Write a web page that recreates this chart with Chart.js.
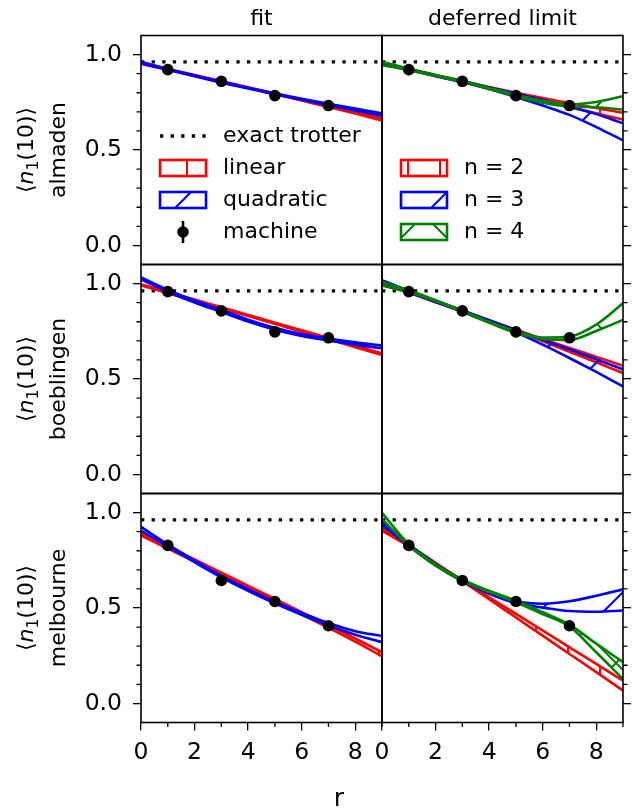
<!DOCTYPE html>
<html lang="en">
<head>
<meta charset="UTF-8">
<title>n1(10) against r: fit and deferred limit</title>
<script src="https://cdn.jsdelivr.net/npm/chart.js"></script>
<style>
  body { margin: 0; background: #fff; }
  #fig { position: relative; width: 643px; height: 812px; }
  #fig canvas { position: absolute; left: 0; top: 0; }
</style>
</head>
<body>
<div id="fig"></div>
<script>
// ---- data ----
const rValues = [0, 1, 2, 3, 4, 5, 6, 7, 8, 9];
const machineR = [1, 3, 5, 7];
const exactTrotter = 0.962;

const almadenMachine = [0.921, 0.860, 0.785, 0.733];
const boeblingenMachine = [0.958, 0.857, 0.747, 0.716];
const melbourneMachine = [0.828, 0.644, 0.534, 0.407];

// fit column: upper / lower edge of each band
const almadenLinearHi = [0.957, 0.925, 0.893, 0.861, 0.829, 0.797, 0.765, 0.733, 0.700, 0.666];
const almadenLinearLo = [0.951, 0.920, 0.889, 0.857, 0.825, 0.792, 0.759, 0.726, 0.691, 0.655];
const almadenQuadHi = [0.962, 0.925, 0.890, 0.857, 0.826, 0.796, 0.768, 0.742, 0.717, 0.692];
const almadenQuadLo = [0.955, 0.920, 0.886, 0.853, 0.822, 0.792, 0.763, 0.735, 0.707, 0.680];

const boeblingenLinearHi = [0.996, 0.956, 0.916, 0.876, 0.836, 0.795, 0.755, 0.715, 0.675, 0.635];
const boeblingenLinearLo = [0.990, 0.950, 0.910, 0.870, 0.830, 0.789, 0.748, 0.708, 0.667, 0.626];
const boeblingenQuadHi = [1.032, 0.967, 0.911, 0.861, 0.811, 0.768, 0.735, 0.712, 0.692, 0.675];
const boeblingenQuadLo = [1.022, 0.957, 0.901, 0.851, 0.801, 0.758, 0.725, 0.702, 0.680, 0.661];

const melbourneLinearHi = [0.892, 0.823, 0.754, 0.685, 0.616, 0.547, 0.478, 0.409, 0.340, 0.268];
const melbourneLinearLo = [0.880, 0.811, 0.743, 0.674, 0.605, 0.536, 0.466, 0.396, 0.324, 0.247];
const melbourneQuadHi = [0.925, 0.833, 0.748, 0.668, 0.597, 0.532, 0.474, 0.421, 0.378, 0.353];
const melbourneQuadLo = [0.905, 0.822, 0.740, 0.661, 0.590, 0.524, 0.464, 0.408, 0.360, 0.321];

// deferred limit column
const almadenN2Hi = [0.958, 0.926, 0.893, 0.861, 0.830, 0.800, 0.772, 0.746, 0.720, 0.695];
const almadenN2Lo = [0.950, 0.921, 0.889, 0.857, 0.825, 0.791, 0.757, 0.724, 0.692, 0.660];
const almadenN3Hi = [0.960, 0.925, 0.892, 0.860, 0.828, 0.795, 0.762, 0.728, 0.688, 0.640];
const almadenN3Lo = [0.952, 0.920, 0.887, 0.855, 0.820, 0.778, 0.733, 0.684, 0.620, 0.550];
const almadenN4Hi = [0.962, 0.926, 0.893, 0.862, 0.826, 0.789, 0.757, 0.739, 0.752, 0.782];
const almadenN4Lo = [0.945, 0.918, 0.888, 0.856, 0.820, 0.781, 0.748, 0.727, 0.724, 0.712];

const boeblingenN2Hi = [1.005, 0.958, 0.908, 0.858, 0.808, 0.758, 0.710, 0.663, 0.616, 0.569];
const boeblingenN2Lo = [0.995, 0.952, 0.902, 0.852, 0.802, 0.750, 0.698, 0.643, 0.588, 0.531];
const boeblingenN3Hi = [1.018, 0.962, 0.910, 0.860, 0.808, 0.756, 0.705, 0.655, 0.603, 0.550];
const boeblingenN3Lo = [1.010, 0.955, 0.904, 0.853, 0.800, 0.745, 0.680, 0.610, 0.537, 0.461];
const boeblingenN4Hi = [1.008, 0.965, 0.913, 0.858, 0.800, 0.750, 0.717, 0.722, 0.785, 0.897];
const boeblingenN4Lo = [0.990, 0.955, 0.908, 0.852, 0.795, 0.742, 0.710, 0.705, 0.752, 0.810];

const melbourneN2Hi = [0.918, 0.830, 0.737, 0.645, 0.556, 0.469, 0.382, 0.294, 0.207, 0.119];
const melbourneN2Lo = [0.905, 0.824, 0.733, 0.640, 0.546, 0.450, 0.355, 0.259, 0.164, 0.067];
const melbourneN3Hi = [0.952, 0.835, 0.730, 0.648, 0.582, 0.535, 0.522, 0.535, 0.564, 0.598];
const melbourneN3Lo = [0.935, 0.826, 0.724, 0.640, 0.575, 0.526, 0.502, 0.484, 0.480, 0.487];
const melbourneN4Hi = [0.998, 0.835, 0.728, 0.648, 0.590, 0.538, 0.478, 0.413, 0.313, 0.216];
const melbourneN4Lo = [0.965, 0.826, 0.722, 0.642, 0.583, 0.530, 0.468, 0.403, 0.268, 0.128];

// ticks and texts
const xTickValues = [0, 2, 4, 6, 8];
const xMinorTicks = [1, 3, 5, 7, 9];
const yTickValues = [0, 0.5, 1.0];
const yMinorTicks = [0.1, 0.2, 0.3, 0.4, 0.6, 0.7, 0.8, 0.9];
const columnTitles = ['fit', 'deferred limit'];
const rowNames = ['almaden', 'boeblingen', 'melbourne'];
const fitLegendLabels = ['exact trotter', 'linear', 'quadratic', 'machine'];
const deferredLegendLabels = ['n = 2', 'n = 3', 'n = 4'];
const xLabel = 'r';

// ---- layout ----
const FONT = 'DejaVu Sans';
Chart.defaults.font.family = FONT;
Chart.defaults.color = '#000';

const figW = 643, figH = 812;
const colLeft = [141, 382], colRight = [382, 623];
const rowTop = [35.5, 264.5, 493.5], rowH = 229;
const RED = '#ff0000', BLUE = '#0000ff', GREEN = '#008000';
const LW = 2.6;

// matplotlib-like hatching, anchored to the figure origin
const helperCtx = document.createElement('canvas').getContext('2d');
function hatch(color, kind) {
  const t = document.createElement('canvas');
  t.width = 64; t.height = 64;
  const g = t.getContext('2d');
  g.strokeStyle = color;
  g.lineWidth = 2;
  g.beginPath();
  if (kind === '|') { g.moveTo(59, -2); g.lineTo(59, 66); }
  if (kind === '||') { [24, 56].forEach(x => { g.moveTo(x, -2); g.lineTo(x, 66); }); }
  if (kind === '/' || kind === 'x') {
    [-1, 63, 127].forEach(c => { g.moveTo(c + 10, -10); g.lineTo(c - 74, 74); });
  }
  if (kind === 'x') {
    [-47, 17, 81].forEach(c => { g.moveTo(c - 10, -10); g.lineTo(c + 74, 74); });
  }
  g.stroke();
  return helperCtx.createPattern(t, 'repeat');
}

const bandStyles = {
  linear: { color: RED, pattern: hatch(RED, '|') },
  quad: { color: BLUE, pattern: hatch(BLUE, '/') },
  n2: { color: RED, pattern: hatch(RED, '||') },
  n3: { color: BLUE, pattern: hatch(BLUE, '/') },
  n4: { color: GREEN, pattern: hatch(GREEN, 'x') }
};

const panels = [
  { row: 0, col: 0, machine: almadenMachine, bands: [['linear', almadenLinearHi, almadenLinearLo], ['quad', almadenQuadHi, almadenQuadLo]] },
  { row: 0, col: 1, machine: almadenMachine, bands: [['n2', almadenN2Hi, almadenN2Lo], ['n3', almadenN3Hi, almadenN3Lo], ['n4', almadenN4Hi, almadenN4Lo]] },
  { row: 1, col: 0, machine: boeblingenMachine, bands: [['linear', boeblingenLinearHi, boeblingenLinearLo], ['quad', boeblingenQuadHi, boeblingenQuadLo]] },
  { row: 1, col: 1, machine: boeblingenMachine, bands: [['n2', boeblingenN2Hi, boeblingenN2Lo], ['n3', boeblingenN3Hi, boeblingenN3Lo], ['n4', boeblingenN4Hi, boeblingenN4Lo]] },
  { row: 2, col: 0, machine: melbourneMachine, bands: [['linear', melbourneLinearHi, melbourneLinearLo], ['quad', melbourneQuadHi, melbourneQuadLo]] },
  { row: 2, col: 1, machine: melbourneMachine, bands: [['n2', melbourneN2Hi, melbourneN2Lo], ['n3', melbourneN3Hi, melbourneN3Lo], ['n4', melbourneN4Hi, melbourneN4Lo]] }
];

function pts(ys, xs) {
  return ys.map((y, i) => ({ x: xs[i], y: y }));
}

function buildDatasets(p) {
  const ds = [{
    label: 'machine', data: pts(p.machine, machineR), showLine: false,
    pointRadius: 5.8, pointBackgroundColor: '#000', pointBorderWidth: 0, order: 0
  }];
  p.bands.forEach(([key, hi, lo], k) => {
    const st = bandStyles[key];
    const order = p.bands.length - k;  // later bands drawn on top
    const common = { borderColor: st.color, borderWidth: LW, pointRadius: 0, cubicInterpolationMode: 'monotone', order: order };
    ds.push(Object.assign({ label: key, data: pts(hi, rValues), backgroundColor: st.pattern, fill: '+1' }, common));
    ds.push(Object.assign({ label: key + ' lower', data: pts(lo, rValues), fill: false }, common));
  });
  ds.push({
    label: 'exact trotter', data: [{ x: 0, y: exactTrotter }, { x: 9, y: exactTrotter }],
    borderColor: '#000', borderWidth: 3.3, borderDash: [3.3, 7.3], pointRadius: 0, fill: false, order: 99
  });
  return ds;
}

// handles for the in-panel legends
function drawHandle(ctx, kind, x, y) {
  const w = 46, h = 16;
  if (kind === 'dots') {
    ctx.save();
    ctx.strokeStyle = '#000'; ctx.lineWidth = 3.3; ctx.setLineDash([3.3, 7.3]);
    ctx.beginPath(); ctx.moveTo(x, y); ctx.lineTo(x + w, y); ctx.stroke();
    ctx.restore();
  } else if (kind === 'point') {
    ctx.fillStyle = '#000'; ctx.strokeStyle = '#000'; ctx.lineWidth = 2.6;
    ctx.beginPath(); ctx.moveTo(x + w / 2, y - 11); ctx.lineTo(x + w / 2, y + 11); ctx.stroke();
    ctx.beginPath(); ctx.arc(x + w / 2, y, 5.8, 0, 2 * Math.PI); ctx.fill();
  } else {
    const st = bandStyles[kind];
    ctx.fillStyle = st.pattern;
    ctx.fillRect(x, y - h / 2, w, h);
    ctx.strokeStyle = st.color; ctx.lineWidth = LW;
    ctx.strokeRect(x, y - h / 2, w, h);
  }
}

function drawLegend(ctx, a, col) {
  const labels = col === 0 ? fitLegendLabels : deferredLegendLabels;
  const kinds = col === 0 ? ['dots', 'linear', 'quad', 'point'] : ['n2', 'n3', 'n4'];
  const rows = col === 0 ? [100.5, 132.5, 164.5, 196.5] : [132.5, 164.5, 196.5];
  ctx.save();
  labels.forEach((lab, i) => {
    const y = a.top + rows[i];
    drawHandle(ctx, kinds[i], a.left + 19, y);
    ctx.fillStyle = '#000';
    ctx.font = '22px ' + FONT;
    ctx.textBaseline = 'middle';
    ctx.textAlign = 'left';
    ctx.fillText(lab, a.left + 82, y);
  });
  ctx.restore();
}

function drawYLabel(ctx, a, name) {
  const cy = (a.top + a.bottom) / 2;
  ctx.save();
  ctx.fillStyle = '#000';
  ctx.textBaseline = 'alphabetic';
  ctx.translate(33, cy);
  ctx.rotate(-Math.PI / 2);
  const parts = [
    { t: '\u27E8', f: '22px ' + FONT, dy: 0 },
    { t: 'n', f: 'italic 22px ' + FONT, dy: 0 },
    { t: '1', f: '15.5px ' + FONT, dy: 4.5 },
    { t: '(10)\u27E9', f: '22px ' + FONT, dy: 0 }
  ];
  let total = 0;
  parts.forEach(pt => { ctx.font = pt.f; pt.w = ctx.measureText(pt.t).width; total += pt.w; });
  let x = -total / 2;
  parts.forEach(pt => { ctx.font = pt.f; ctx.fillText(pt.t, x, pt.dy); x += pt.w; });
  ctx.restore();

  ctx.save();
  ctx.fillStyle = '#000';
  ctx.translate(65, cy);
  ctx.rotate(-Math.PI / 2);
  ctx.font = '22px ' + FONT;
  ctx.textAlign = 'center';
  ctx.textBaseline = 'alphabetic';
  ctx.fillText(name, 0, 0);
  ctx.restore();
}

function makeDecor(p) {
  return {
    id: 'decor',
    afterDraw(chart) {
      const { ctx, chartArea: a, scales } = chart;
      ctx.save();
      ctx.strokeStyle = '#000';
      ctx.lineWidth = 1.3;
      ctx.beginPath();
      yMinorTicks.forEach(v => {
        const y = scales.y.getPixelForValue(v);
        if (p.col === 0) { ctx.moveTo(a.left - 4.5, y); ctx.lineTo(a.left, y); }
        else { ctx.moveTo(a.right, y); ctx.lineTo(a.right + 4.5, y); }
      });
      if (p.row === 2) {
        xMinorTicks.forEach(v => {
          const x = scales.x.getPixelForValue(v);
          ctx.moveTo(x, a.bottom); ctx.lineTo(x, a.bottom + 4.5);
        });
      }
      ctx.stroke();
      ctx.lineWidth = 1.6;
      ctx.strokeRect(a.left, a.top, a.right - a.left, a.bottom - a.top);
      ctx.restore();

      if (p.row === 0) {
        drawLegend(ctx, a, p.col);
        ctx.save();
        ctx.fillStyle = '#000';
        ctx.font = '22px ' + FONT;
        ctx.textAlign = 'center';
        ctx.textBaseline = 'alphabetic';
        ctx.fillText(columnTitles[p.col], (a.left + a.right) / 2, 25);
        ctx.restore();
      }
      if (p.col === 0) drawYLabel(ctx, a, rowNames[p.row]);
      if (p.row === 2 && p.col === 0) {
        ctx.save();
        ctx.fillStyle = '#000';
        ctx.font = '25px ' + FONT;
        ctx.textAlign = 'center';
        ctx.textBaseline = 'alphabetic';
        ctx.fillText(xLabel, 339, 806);
        ctx.restore();
      }
    }
  };
}

const fig = document.getElementById('fig');
panels.forEach((p, i) => {
  const canvas = document.createElement('canvas');
  canvas.width = figW; canvas.height = figH;
  canvas.id = 'panel' + i;
  fig.appendChild(canvas);

  const L = colLeft[p.col], R = colRight[p.col];
  const T = rowTop[p.row], B = T + rowH;
  const bottomRow = p.row === 2;
  const tickGrid = { drawOnChartArea: false, drawTicks: true, tickLength: 8, color: '#000', lineWidth: 1.3 };

  new Chart(canvas, {
    type: 'line',
    data: { datasets: buildDatasets(p) },
    options: {
      responsive: false,
      animation: false,
      devicePixelRatio: 1,
      events: [],
      layout: {
        padding: {
          left: p.col === 0 ? 0 : L,
          right: p.col === 0 ? figW - R : figW - R - 8,
          top: T,
          bottom: bottomRow ? 0 : figH - B
        }
      },
      plugins: { legend: { display: false }, tooltip: { enabled: false } },
      scales: {
        x: {
          type: 'linear', min: 0, max: 9,
          display: bottomRow,
          afterBuildTicks: ax => { ax.ticks = xTickValues.map(v => ({ value: v })); },
          afterFit: ax => { ax.height = bottomRow ? figH - B : 0; },
          grid: tickGrid,
          border: { display: false },
          ticks: { color: '#000', font: { size: 23.5 }, padding: 8, maxRotation: 0, autoSkip: false, callback: v => String(v) }
        },
        y: {
          type: 'linear', min: -0.1, max: 1.1,
          position: p.col === 0 ? 'left' : 'right',
          afterBuildTicks: ax => { ax.ticks = yTickValues.map(v => ({ value: v })); },
          afterFit: ax => { ax.width = p.col === 0 ? L : 8; },
          grid: tickGrid,
          border: { display: false },
          ticks: { display: p.col === 0, color: '#000', font: { size: 23.5 }, padding: 11, callback: v => Number(v).toFixed(1) }
        }
      }
    },
    plugins: [makeDecor(p)]
  });
});
</script>
</body>
</html>
